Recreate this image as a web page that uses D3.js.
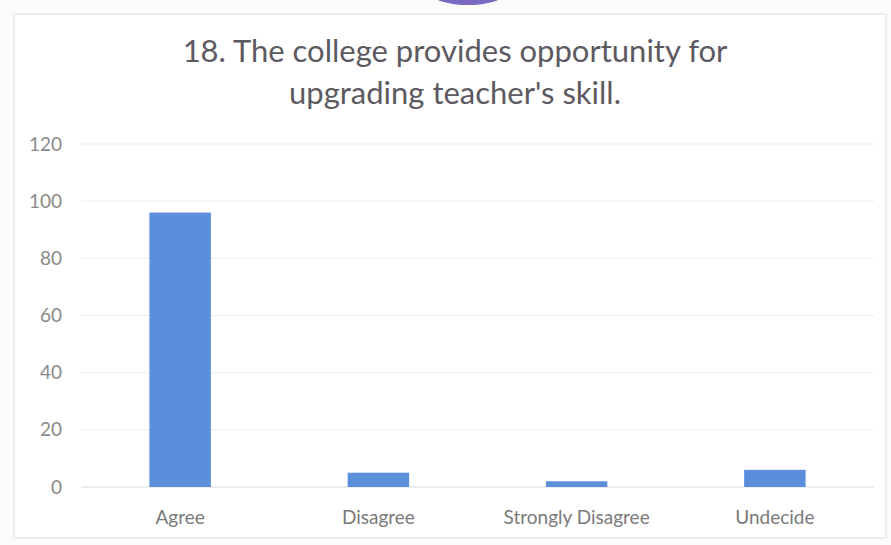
<!DOCTYPE html>
<html><head><meta charset="utf-8">
<script src="https://cdn.jsdelivr.net/npm/d3@7"></script>
<style>
html,body{margin:0;padding:0;background:#fdfcfd;}
svg{display:block;}
</style></head>
<body>
<svg id="chart" width="891" height="545"></svg>
<script>
const categories = ["Agree", "Disagree", "Strongly Disagree", "Undecide"];
const values = [96, 5, 2, 6];
const yTicks = [0, 20, 40, 60, 80, 100, 120];
const titleLines = ["18. The college provides opportunity for", "upgrading teacher's skill."];

const svg = d3.select("#chart");
const W = 891, H = 545;
const font = "Lato, 'Open Sans', sans-serif";

svg.append("rect").attr("width", W).attr("height", H).attr("fill", "#fdfcfd");
// chart frame
svg.append("rect").attr("x", 14).attr("y", 14).attr("width", 872).attr("height", 524)
  .attr("fill", "#ffffff").attr("stroke", "#e6e4e8").attr("stroke-width", 1.5);
// purple shape at top (partial from photo)
svg.append("ellipse").attr("cx", 468).attr("cy", -6).attr("rx", 36).attr("ry", 11)
  .attr("fill", "#7b68c0");

// title
svg.append("g").selectAll("text").data(titleLines).join("text")
  .attr("x", 455).attr("y", (d, i) => 62 + i * 42)
  .attr("text-anchor", "middle")
  .attr("font-family", font).attr("font-size", 31)
  .attr("fill", "#5c5a60").text(d => d);

const x = d3.scaleBand().domain(categories).range([81, 874]).paddingInner(0.69).paddingOuter(0.345);
const y = d3.scaleLinear().domain([0, 120]).range([487, 144]);

// gridlines
svg.append("g").selectAll("line").data(yTicks).join("line")
  .attr("x1", 81).attr("x2", 874)
  .attr("y1", d => y(d)).attr("y2", d => y(d))
  .attr("stroke", d => d === 0 ? "#d9d9d9" : "#ececec").attr("stroke-width", 1);

// y axis labels
const yAxis = d3.axisLeft(y).tickValues(yTicks).tickSize(0).tickPadding(0);
const ya = svg.append("g").attr("transform", "translate(62,0)").call(yAxis);
ya.select(".domain").remove();
ya.selectAll("text").attr("font-family", font).attr("font-size", 19).attr("fill", "#8a8a8a");

// bars
svg.append("g").selectAll("rect").data(categories).join("rect")
  .attr("x", d => x(d)).attr("width", x.bandwidth())
  .attr("y", (d, i) => y(values[i]))
  .attr("height", (d, i) => y(0) - y(values[i]))
  .attr("fill", "#5b8fdc");

// x axis
const xAxis = d3.axisBottom(x).tickSize(0).tickPadding(0);
const xa = svg.append("g").attr("transform", "translate(0,524)").call(xAxis);
xa.select(".domain").remove();
xa.selectAll("text").attr("dy", 0).attr("font-family", font).attr("font-size", 19).attr("fill", "#7a7a7a");
</script>
</body></html>
